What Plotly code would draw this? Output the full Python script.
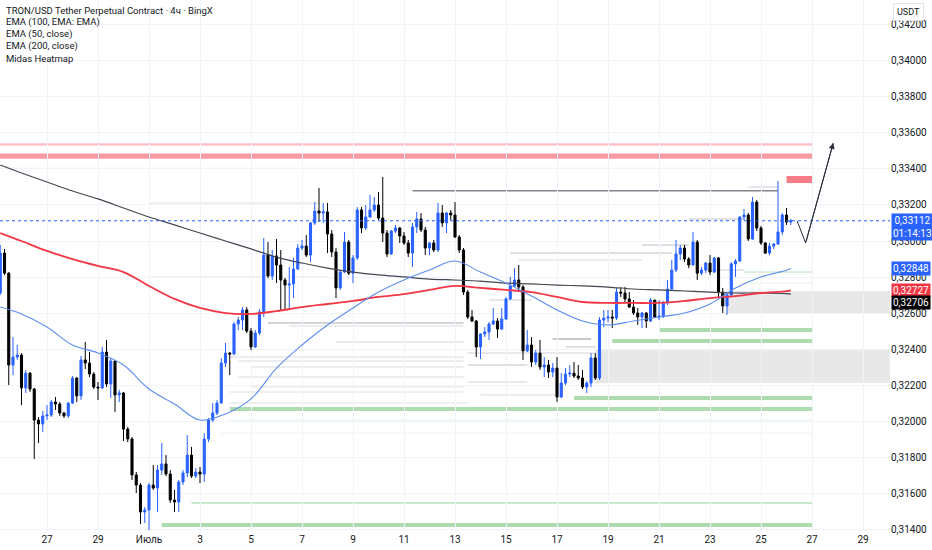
import pandas as pd
import plotly.graph_objects as go

# TRX/USDT perpetual, BingX, 4h candles: 25 Jun 04:00 -> 26 Jul 04:00 (2025)
first_open = 0.32712
close = [
    0.32933, 0.32822, 0.32313, 0.32357, 0.32368, 0.32186, 0.32268, 0.32180, 0.32008, 0.31986,
    0.32031, 0.32036, 0.32108, 0.32097, 0.32047, 0.32031, 0.32102, 0.32241, 0.32142, 0.32341,
    0.32324, 0.32263, 0.32191, 0.32186, 0.32385, 0.32208, 0.32335, 0.32147, 0.32158, 0.31958,
    0.31903, 0.31704, 0.31648, 0.31499, 0.31510, 0.31648, 0.31632, 0.31731, 0.31765, 0.31709,
    0.31565, 0.31554, 0.31665, 0.31715, 0.31814, 0.31698, 0.31720, 0.31709, 0.31903, 0.32008,
    0.32047, 0.32102, 0.32324, 0.32379, 0.32374, 0.32540, 0.32562, 0.32618, 0.32501, 0.32413,
    0.32490, 0.32607, 0.32922, 0.32806, 0.32917, 0.32867, 0.32784, 0.32756, 0.32762, 0.32845,
    0.32961, 0.32972, 0.32922, 0.33100, 0.33166, 0.33155, 0.33161, 0.33039, 0.32939, 0.32740,
    0.32828, 0.32994, 0.32822, 0.32906, 0.33172, 0.33072, 0.33133, 0.33172, 0.33199, 0.33127,
    0.33044, 0.32928, 0.33055, 0.33072, 0.33028, 0.32989, 0.32933, 0.33078, 0.33122, 0.33061,
    0.32961, 0.32989, 0.32950, 0.33155, 0.33100, 0.33155, 0.33144, 0.33022, 0.32950, 0.32717,
    0.32579, 0.32557, 0.32413, 0.32485, 0.32496, 0.32540, 0.32557, 0.32512, 0.32568, 0.32679,
    0.32751, 0.32784, 0.32745, 0.32391, 0.32424, 0.32330, 0.32379, 0.32302, 0.32313, 0.32274,
    0.32296, 0.32136, 0.32213, 0.32263, 0.32268, 0.32252, 0.32241, 0.32191, 0.32213, 0.32352,
    0.32241, 0.32562, 0.32573, 0.32579, 0.32573, 0.32717, 0.32712, 0.32679, 0.32634, 0.32601,
    0.32579, 0.32601, 0.32557, 0.32673, 0.32579, 0.32584, 0.32657, 0.32734, 0.32839, 0.32928,
    0.32961, 0.32900, 0.32867, 0.32994, 0.32822, 0.32839, 0.32878, 0.32828, 0.32906, 0.32717,
    0.32640, 0.32701, 0.32873, 0.32889, 0.33133, 0.33144, 0.33011, 0.33216, 0.33072, 0.32989,
    0.32933, 0.32972, 0.32983, 0.33050, 0.33144, 0.33105, 0.33112,
]
high = [
    0.32978, 0.32956, 0.32828, 0.32468, 0.32424, 0.32379, 0.32285, 0.32274, 0.32186, 0.32025,
    0.32058, 0.32091, 0.32119, 0.32136, 0.32108, 0.32053, 0.32108, 0.32252, 0.32246, 0.32363,
    0.32441, 0.32385, 0.32274, 0.32219, 0.32413, 0.32452, 0.32352, 0.32341, 0.32175, 0.32164,
    0.31970, 0.31914, 0.31720, 0.31659, 0.31526, 0.31659, 0.31759, 0.31759, 0.31881, 0.31814,
    0.31731, 0.31621, 0.31676, 0.31731, 0.31925, 0.31859, 0.31742, 0.31748, 0.31936, 0.32020,
    0.32102, 0.32119, 0.32352, 0.32435, 0.32385, 0.32551, 0.32579, 0.32634, 0.32634, 0.32518,
    0.32507, 0.32623, 0.33017, 0.32994, 0.32950, 0.33011, 0.32950, 0.32795, 0.32856, 0.32906,
    0.32983, 0.33006, 0.33033, 0.33105, 0.33216, 0.33294, 0.33211, 0.33211, 0.33061, 0.32961,
    0.32839, 0.33050, 0.33006, 0.32922, 0.33188, 0.33188, 0.33199, 0.33255, 0.33244, 0.33271,
    0.33355, 0.33061, 0.33061, 0.33089, 0.33078, 0.33050, 0.33006, 0.33100, 0.33161, 0.33155,
    0.33078, 0.32994, 0.33006, 0.33211, 0.33199, 0.33161, 0.33172, 0.33216, 0.33033, 0.32961,
    0.32729, 0.32618, 0.32562, 0.32490, 0.32523, 0.32551, 0.32629, 0.32573, 0.32629, 0.32690,
    0.32801, 0.32850, 0.32867, 0.32756, 0.32507, 0.32468, 0.32396, 0.32452, 0.32357, 0.32341,
    0.32324, 0.32357, 0.32268, 0.32296, 0.32313, 0.32330, 0.32313, 0.32285, 0.32224, 0.32379,
    0.32379, 0.32579, 0.32618, 0.32618, 0.32618, 0.32740, 0.32745, 0.32745, 0.32717, 0.32673,
    0.32629, 0.32607, 0.32607, 0.32684, 0.32673, 0.32673, 0.32668, 0.32784, 0.32895, 0.33006,
    0.32978, 0.32978, 0.32911, 0.33050, 0.33006, 0.32856, 0.32884, 0.32922, 0.32911, 0.32911,
    0.32740, 0.32717, 0.32884, 0.32900, 0.33138, 0.33177, 0.33155, 0.33244, 0.33227, 0.33083,
    0.32994, 0.32989, 0.32989, 0.33332, 0.33155, 0.33183, 0.33122,
]
low = [
    0.32701, 0.32811, 0.32202, 0.32257, 0.32341, 0.32091, 0.32158, 0.32164, 0.31792, 0.31881,
    0.31942, 0.32008, 0.32025, 0.32064, 0.32031, 0.32020, 0.32020, 0.32097, 0.32108, 0.32119,
    0.32291, 0.32246, 0.32180, 0.32119, 0.32180, 0.32191, 0.32130, 0.32053, 0.32108, 0.31892,
    0.31886, 0.31676, 0.31604, 0.31432, 0.31438, 0.31399, 0.31621, 0.31499, 0.31704, 0.31698,
    0.31549, 0.31499, 0.31499, 0.31648, 0.31692, 0.31687, 0.31687, 0.31659, 0.31665, 0.31886,
    0.31997, 0.32036, 0.32102, 0.32302, 0.32257, 0.32368, 0.32507, 0.32507, 0.32490, 0.32396,
    0.32407, 0.32479, 0.32579, 0.32795, 0.32784, 0.32767, 0.32618, 0.32618, 0.32618, 0.32684,
    0.32839, 0.32950, 0.32911, 0.32884, 0.33089, 0.33105, 0.33100, 0.32933, 0.32911, 0.32684,
    0.32729, 0.32822, 0.32811, 0.32767, 0.32895, 0.33044, 0.33061, 0.33127, 0.33161, 0.33116,
    0.32994, 0.32911, 0.32922, 0.33044, 0.32989, 0.32978, 0.32911, 0.32856, 0.33044, 0.33050,
    0.32922, 0.32922, 0.32939, 0.32939, 0.33078, 0.33044, 0.33116, 0.33017, 0.32933, 0.32701,
    0.32568, 0.32551, 0.32357, 0.32346, 0.32468, 0.32452, 0.32535, 0.32463, 0.32507, 0.32562,
    0.32673, 0.32745, 0.32729, 0.32341, 0.32385, 0.32302, 0.32313, 0.32285, 0.32246, 0.32241,
    0.32246, 0.32108, 0.32130, 0.32202, 0.32246, 0.32241, 0.32230, 0.32180, 0.32158, 0.32191,
    0.32230, 0.32230, 0.32523, 0.32551, 0.32518, 0.32562, 0.32690, 0.32657, 0.32629, 0.32590,
    0.32535, 0.32518, 0.32518, 0.32551, 0.32573, 0.32562, 0.32573, 0.32645, 0.32729, 0.32828,
    0.32895, 0.32884, 0.32850, 0.32895, 0.32784, 0.32811, 0.32822, 0.32811, 0.32822, 0.32690,
    0.32601, 0.32590, 0.32695, 0.32801, 0.32884, 0.33116, 0.33000, 0.33006, 0.33055, 0.32978,
    0.32928, 0.32922, 0.32956, 0.32978, 0.33033, 0.33089, 0.33089,
]

# moving averages, one point per day
ema_times = ["2025-06-25 04:00"] + [d.strftime("%Y-%m-%d") for d in pd.date_range("2025-06-26", "2025-07-26")] + ["2025-07-26 04:00"]
ema100 = [0.33421, 0.33377, 0.33327, 0.33277, 0.33233, 0.33183, 0.33133, 0.33089, 0.33044, 0.33000,
          0.32956, 0.32911, 0.32878, 0.32850, 0.32828, 0.32812, 0.32801, 0.32789, 0.32784, 0.32778,
          0.32767, 0.32762, 0.32756, 0.32751, 0.32745, 0.32734, 0.32729, 0.32723, 0.32717, 0.32712,
          0.32712, 0.32708, 0.32706]
ema50 = [0.32634, 0.32596, 0.32524, 0.32424, 0.32380, 0.32313, 0.32180, 0.32097, 0.32008, 0.32042,
         0.32125, 0.32296, 0.32424, 0.32535, 0.32629, 0.32717, 0.32784, 0.32839, 0.32889, 0.32828,
         0.32767, 0.32695, 0.32618, 0.32557, 0.32535, 0.32557, 0.32579, 0.32601, 0.32651, 0.32740,
         0.32801, 0.32838, 0.32848]
ema200 = [0.33044, 0.33000, 0.32945, 0.32900, 0.32862, 0.32828, 0.32751, 0.32679, 0.32629, 0.32601,
          0.32596, 0.32612, 0.32634, 0.32651, 0.32668, 0.32690, 0.32706, 0.32729, 0.32751, 0.32740,
          0.32729, 0.32717, 0.32690, 0.32662, 0.32657, 0.32657, 0.32657, 0.32668, 0.32684, 0.32695,
          0.32712, 0.32722, 0.32727]

# Midas heatmap zones: (start, price low, price high, colour), all end at zone_end
zone_end = "2025-07-27 00:00"
red_zones = [
    ("2025-06-25", 0.33528, 0.33541, "rgba(242,54,69,0.30)"),
    ("2025-06-25", 0.33456, 0.33485, "rgba(242,54,69,0.50)"),
    ("2025-06-25", 0.33402, 0.33406, "rgba(242,54,69,0.12)"),
    ("2025-07-26 00:00", 0.33321, 0.33360, "rgba(242,54,69,0.65)"),
]
green_zones = [
    ("2025-07-24 08:00", 0.32826, 0.32831, "rgba(76,175,80,0.40)"),
    ("2025-07-24 08:00", 0.32765, 0.32769, "rgba(76,175,80,0.20)"),
    ("2025-07-21 00:00", 0.32496, 0.32518, "rgba(76,175,80,0.45)"),
    ("2025-07-19 04:00", 0.32435, 0.32457, "rgba(76,175,80,0.45)"),
    ("2025-07-17 16:00", 0.32119, 0.32141, "rgba(76,175,80,0.45)"),
    ("2025-07-04 04:00", 0.32058, 0.32080, "rgba(76,175,80,0.45)"),
    ("2025-07-04 04:00", 0.32006, 0.32010, "rgba(76,175,80,0.20)"),
    ("2025-07-03 20:00", 0.31934, 0.31938, "rgba(76,175,80,0.15)"),
    ("2025-07-02 16:00", 0.31543, 0.31554, "rgba(76,175,80,0.30)"),
    ("2025-07-01 12:00", 0.31416, 0.31438, "rgba(76,175,80,0.45)"),
]
gray_boxes = [
    ("2025-07-23 16:00", 0.32601, 0.32723),
    ("2025-07-18 12:00", 0.32213, 0.32402),
]
# liquidity lines: (start, end, price, opacity)
liq_lines = [
    ("2025-07-11 08:00", "2025-07-25 16:00", 0.33279, 0.75),
    ("2025-07-24 12:00", "2025-07-25 16:00", 0.33299, 0.20),
    ("2025-07-01 00:00", "2025-07-07 16:00", 0.33211, 0.12),
    ("2025-07-01 00:00", "2025-07-08 00:00", 0.32801, 0.12),
    ("2025-07-15 04:00", "2025-07-21 12:00", 0.32933, 0.25),
    ("2025-07-20 08:00", "2025-07-22 04:00", 0.32978, 0.25),
    ("2025-07-22 04:00", "2025-07-24 08:00", 0.33122, 0.25),
    ("2025-07-15 12:00", "2025-07-20 08:00", 0.32895, 0.15),
    ("2025-07-22 20:00", "2025-07-24 08:00", 0.32839, 0.20),
    ("2025-07-05 16:00", "2025-07-13 08:00", 0.32546, 0.35),
    ("2025-07-06 12:00", "2025-07-13 08:00", 0.32529, 0.15),
    ("2025-07-08 08:00", "2025-07-13 08:00", 0.32440, 0.18),
    ("2025-07-04 04:00", "2025-07-13 08:00", 0.32357, 0.15),
    ("2025-07-04 12:00", "2025-07-13 08:00", 0.32335, 0.15),
    ("2025-07-05 00:00", "2025-07-13 08:00", 0.32302, 0.15),
    ("2025-07-04 12:00", "2025-07-13 08:00", 0.32246, 0.15),
    ("2025-07-05 00:00", "2025-07-13 08:00", 0.32191, 0.12),
    ("2025-07-04 04:00", "2025-07-13 08:00", 0.32163, 0.12),
    ("2025-07-04 04:00", "2025-07-13 12:00", 0.32103, 0.12),
    ("2025-07-16 20:00", "2025-07-18 08:00", 0.32457, 0.45),
    ("2025-07-17 08:00", "2025-07-18 12:00", 0.32413, 0.25),
    ("2025-07-13 12:00", "2025-07-18 12:00", 0.32379, 0.18),
    ("2025-07-13 12:00", "2025-07-15 20:00", 0.32313, 0.25),
    ("2025-07-13 12:00", "2025-07-15 20:00", 0.32219, 0.18),
    ("2025-07-14 00:00", "2025-07-17 00:00", 0.32147, 0.15),
    ("2025-07-14 08:00", "2025-07-16 00:00", 0.32673, 0.20),
]

# projection path drawn on the chart
proj_t = ["2025-07-26 10:00", "2025-07-26 18:00", "2025-07-27 20:00"]
proj_p = [0.33111, 0.32989, 0.33543]

tick_dates = pd.date_range("2025-06-27", "2025-07-29", freq="2D")
tick_text = ["27", "29", "Июль", "3", "5", "7", "9", "11", "13", "15", "17",
             "19", "21", "23", "25", "27", "29"]
price_ticks = [0.314, 0.316, 0.318, 0.320, 0.322, 0.324, 0.326, 0.328,
               0.330, 0.332, 0.334, 0.336, 0.338, 0.340, 0.342]
price_text = [f"{v:.5f}".replace(".", ",") for v in price_ticks]

legend_lines = ["TRON/USD Tether Perpetual Contract · 4ч · BingX",
                "EMA (100, EMA: EMA)", "EMA (50, close)", "EMA (200, close)", "Midas Heatmap"]

last_price = close[-1]
countdown = "01:14:13"

times = pd.date_range("2025-06-25 04:00", periods=len(close), freq="4h")
opens = [first_open] + close[:-1]
high = [max(h, o, c) for h, o, c in zip(high, opens, close)]
low = [min(l, o, c) for l, o, c in zip(low, opens, close)]

BLUE = "#2962ff"
FONT = "Roboto"

fig = go.Figure()

shapes = []
for start, lo, hi, col in red_zones + green_zones:
    shapes.append(dict(type="rect", xref="x", yref="y", x0=start, x1=zone_end, y0=lo, y1=hi,
                       fillcolor=col, line_width=0, layer="below"))
for start, lo, hi in gray_boxes:
    shapes.append(dict(type="rect", xref="x", yref="y", x0=start, x1="2025-07-31", y0=lo, y1=hi,
                       fillcolor="rgba(150,150,155,0.22)", line_width=0, layer="below"))
for t0, t1, p, a in liq_lines:
    shapes.append(dict(type="line", xref="x", yref="y", x0=t0, x1=t1, y0=p, y1=p,
                       line=dict(color=f"rgba(90,93,104,{a})", width=1.5), layer="below"))
shapes.append(dict(type="line", xref="paper", yref="y", x0=0, x1=1, y0=last_price, y1=last_price,
                   line=dict(color=BLUE, width=1, dash="dot")))

fig.add_trace(go.Scatter(x=ema_times, y=ema100, mode="lines", line=dict(color="#434651", width=1.2, shape="spline"), hoverinfo="skip"))
fig.add_trace(go.Scatter(x=ema_times, y=ema200, mode="lines", line=dict(color="#f23645", width=1.8, shape="spline"), hoverinfo="skip"))
fig.add_trace(go.Scatter(x=ema_times, y=ema50, mode="lines", line=dict(color="#5b8def", width=1.1, shape="spline"), hoverinfo="skip"))

fig.add_trace(go.Candlestick(
    x=times, open=opens, high=high, low=low, close=close,
    increasing=dict(line=dict(color=BLUE, width=1), fillcolor=BLUE),
    decreasing=dict(line=dict(color="#000000", width=1), fillcolor="#000000"),
    whiskerwidth=0,
))

fig.add_trace(go.Scatter(x=proj_t, y=proj_p, mode="lines", line=dict(color="#2a2e39", width=1), hoverinfo="skip"))

annotations = []
for i, txt in enumerate(legend_lines):
    annotations.append(dict(xref="paper", yref="paper", x=0.004, y=1 - (10 + 12 * i) / 532,
                            xanchor="left", yanchor="middle", showarrow=False, text=txt,
                            font=dict(family=FONT, size=9.5, color="#131722")))
annotations.append(dict(x=proj_t[-1], y=proj_p[-1], ax=proj_t[-2], ay=proj_p[-2], axref="x", ayref="y",
                        xref="x", yref="y", showarrow=True, arrowhead=2, arrowsize=1.2, arrowwidth=1,
                        arrowcolor="#2a2e39", text=""))

# right-axis price tags; the EMA 100 / EMA 200 tags are nudged apart like on the original
axis_labels = [
    (last_price, f"{last_price:.5f}".replace(".", ",") + "<br>" + countdown, BLUE, -6),
    (ema50[-1], f"{ema50[-1]:.5f}".replace(".", ","), BLUE, 0),
    (ema200[-1], f"{ema200[-1]:.5f}".replace(".", ","), "#f23645", 0),
    (ema100[-1], f"{ema100[-1]:.5f}".replace(".", ","), "#000000", -8),
]
for p, txt, col, shift in axis_labels:
    annotations.append(dict(xref="paper", yref="y", x=1, y=p, xanchor="left", yanchor="middle",
                            xshift=1, yshift=shift, showarrow=False, text=txt, bgcolor=col,
                            borderpad=1, font=dict(family=FONT, size=10, color="white")))
annotations.append(dict(xref="paper", yref="paper", x=1, y=1, xanchor="left", yanchor="top",
                        xshift=3, yshift=-3, showarrow=False, text="USDT", bgcolor="white",
                        bordercolor="#e0e3eb", borderwidth=1, borderpad=3,
                        font=dict(family=FONT, size=9, color="#131722")))

fig.update_layout(
    width=932, height=550,
    margin=dict(l=0, r=42, t=0, b=18),
    paper_bgcolor="white", plot_bgcolor="white",
    showlegend=False,
    shapes=shapes,
    annotations=annotations,
    font=dict(family=FONT, size=10, color="#131722"),
    xaxis=dict(range=["2025-06-25 03:46", "2025-07-30 01:24"], rangeslider=dict(visible=False),
               tickvals=tick_dates, ticktext=tick_text, showgrid=True, gridcolor="#f0f3fa",
               zeroline=False, showline=False, ticks="", tickfont=dict(size=10)),
    yaxis=dict(range=[0.31388, 0.34335], side="right", tickvals=price_ticks, ticktext=price_text,
               showgrid=True, gridcolor="#f0f3fa", zeroline=False, showline=False, ticks="",
               tickfont=dict(size=10)),
)

# page body has a default 8px margin; drop it so the figure fills the window
fig.write_html("out.html", config={"displayModeBar": False},
               post_script="document.body.style.margin='0';")
